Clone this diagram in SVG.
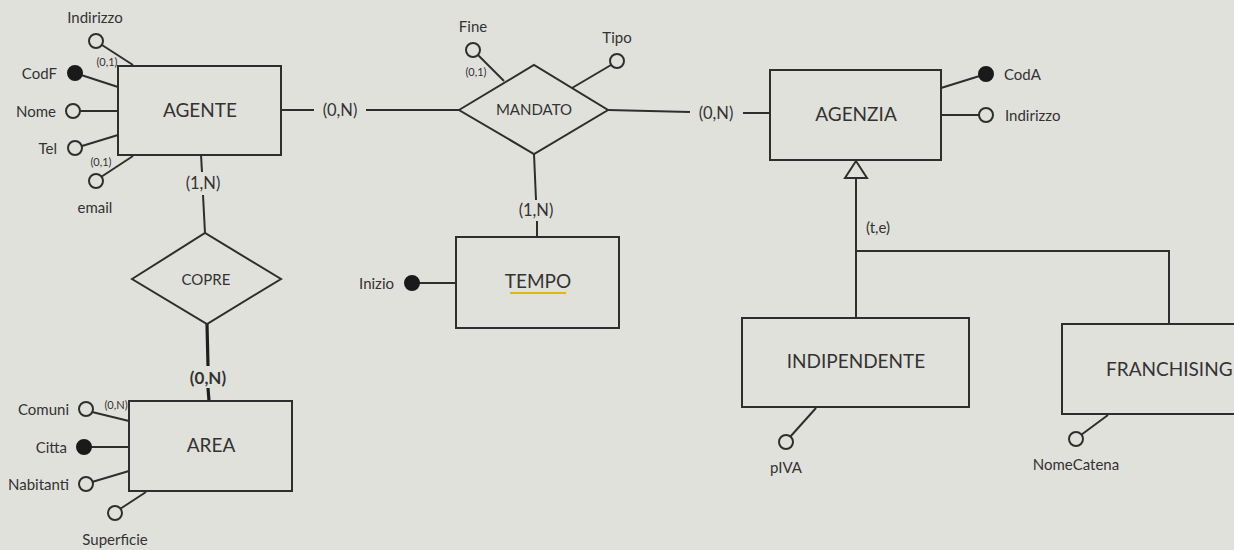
<svg xmlns="http://www.w3.org/2000/svg" width="1234" height="550" viewBox="0 0 1234 550">
<style>
.bg{fill:#e1e1dc}
.box{fill:none;stroke:#2e2e2e;stroke-width:2}
.ln{fill:none;stroke:#2e2e2e;stroke-width:2}
.thick{fill:none;stroke:#1e1e1e;stroke-width:3.2}
.oc{fill:#e1e1dc;stroke:#2e2e2e;stroke-width:2}
.fc{fill:#1a1a1a;stroke:#1a1a1a;stroke-width:2}
text{font-family:Lato,"Open Sans","Liberation Sans",sans-serif;fill:#333;dominant-baseline:central}
.ent{font-size:19px}
.att{font-size:15px}
.card{font-size:16.5px}
.sm{font-size:11px}
.bold{font-weight:bold;font-size:17px}
.m{text-anchor:middle}
.e{text-anchor:end}
.s{text-anchor:start}
</style>
<rect class="bg" x="0" y="0" width="1234" height="550"/>

<g id="connectors">
  <line class="ln" x1="281" y1="110" x2="314" y2="110"/>
  <line class="ln" x1="366" y1="110" x2="459" y2="110"/>
  <line class="ln" x1="608" y1="110" x2="690" y2="112"/>
  <line class="ln" x1="743" y1="113" x2="770" y2="113"/>
  <line class="ln" x1="534" y1="154" x2="536" y2="200"/>
  <line class="ln" x1="537" y1="221" x2="537" y2="237"/>
  <line class="ln" x1="201" y1="155" x2="202" y2="172"/>
  <line class="ln" x1="203" y1="195" x2="205" y2="233"/>
  <line class="thick" x1="207" y1="324" x2="208" y2="366"/>
  <line class="thick" x1="208" y1="388" x2="209" y2="401"/>
  <polygon class="oc" points="856,161 845,178 867,178"/>
  <polyline class="ln" points="856,178 856,318"/>
  <polyline class="ln" points="856,251 1169,251 1169,324"/>
</g>

<g id="agente">
  <rect class="box" x="118" y="66" width="163" height="89"/>
  <text class="ent m" x="200" y="109">AGENTE</text>
  <line class="ln" x1="102" y1="45" x2="133" y2="65"/>
  <circle class="oc" cx="96" cy="41" r="7"/>
  <text class="att m" x="95" y="17">Indirizzo</text>
  <text class="sm m" x="107" y="61">(0,1)</text>
  <line class="ln" x1="75" y1="73" x2="118" y2="87"/>
  <circle class="fc" cx="75" cy="73" r="7"/>
  <text class="att e" x="57" y="73">CodF</text>
  <line class="ln" x1="80" y1="111" x2="118" y2="111"/>
  <circle class="oc" cx="73" cy="111" r="7"/>
  <text class="att e" x="56" y="111">Nome</text>
  <line class="ln" x1="82" y1="146" x2="118" y2="135"/>
  <circle class="oc" cx="75" cy="148" r="7"/>
  <text class="att e" x="57" y="148">Tel</text>
  <line class="ln" x1="101" y1="177" x2="133" y2="156"/>
  <circle class="oc" cx="96" cy="181" r="7"/>
  <text class="sm m" x="101" y="161">(0,1)</text>
  <text class="att m" x="95" y="207">email</text>
  <text class="card m" x="340" y="110">(0,N)</text>
  <text class="card m" x="203" y="183">(1,N)</text>
</g>

<g id="mandato">
  <polygon class="box" points="459,110 534,65 608,110 534,154"/>
  <text class="att m" x="534" y="109">MANDATO</text>
  <line class="ln" x1="478" y1="55" x2="504" y2="81"/>
  <circle class="oc" cx="473" cy="50" r="7"/>
  <text class="att m" x="473" y="26">Fine</text>
  <text class="sm m" x="476" y="71">(0,1)</text>
  <line class="ln" x1="611" y1="65" x2="572" y2="88"/>
  <circle class="oc" cx="617" cy="61" r="7"/>
  <text class="att m" x="617" y="37">Tipo</text>
  <text class="card m" x="716" y="113">(0,N)</text>
  <text class="card m" x="536" y="210">(1,N)</text>
</g>

<g id="tempo">
  <rect class="box" x="456" y="237" width="163" height="91"/>
  <text class="ent m" x="538" y="280">TEMPO</text>
  <line x1="510" y1="293" x2="566" y2="293" stroke="#e2b800" stroke-width="2"/>
  <line class="ln" x1="412" y1="283" x2="456" y2="283"/>
  <circle class="fc" cx="412" cy="283" r="7"/>
  <text class="att e" x="394" y="283">Inizio</text>
</g>

<g id="copre">
  <polygon class="box" points="132,279 205,233 281,279 207,324"/>
  <text class="att m" x="206" y="279">COPRE</text>
  <text class="bold m" x="208" y="377">(0,N)</text>
</g>

<g id="area">
  <rect class="box" x="129" y="401" width="163" height="90"/>
  <text class="ent m" x="211" y="444">AREA</text>
  <line class="ln" x1="92" y1="412" x2="129" y2="421"/>
  <circle class="oc" cx="86" cy="409" r="7"/>
  <text class="sm m" x="116" y="404">(0,N)</text>
  <text class="att e" x="69" y="409">Comuni</text>
  <line class="ln" x1="84" y1="447" x2="129" y2="447"/>
  <circle class="fc" cx="84" cy="447" r="7"/>
  <text class="att e" x="67" y="447">Citta</text>
  <line class="ln" x1="92" y1="482" x2="129" y2="471"/>
  <circle class="oc" cx="86" cy="484" r="7"/>
  <text class="att e" x="69" y="484">Nabitanti</text>
  <line class="ln" x1="120" y1="509" x2="146" y2="492"/>
  <circle class="oc" cx="115" cy="513" r="7"/>
  <text class="att m" x="115" y="539">Superficie</text>
</g>

<g id="agenzia">
  <rect class="box" x="770" y="70" width="171" height="90"/>
  <text class="ent m" x="856" y="113">AGENZIA</text>
  <line class="ln" x1="941" y1="88" x2="986" y2="74"/>
  <circle class="fc" cx="986" cy="74" r="7"/>
  <text class="att s" x="1004" y="74">CodA</text>
  <line class="ln" x1="941" y1="115" x2="979" y2="115"/>
  <circle class="oc" cx="986" cy="115" r="7"/>
  <text class="att s" x="1005" y="115">Indirizzo</text>
  <text class="att m" x="878" y="227">(t,e)</text>
</g>

<g id="indipendente">
  <rect class="box" x="742" y="318" width="227" height="89"/>
  <text class="ent m" x="856" y="360">INDIPENDENTE</text>
  <line class="ln" x1="790" y1="437" x2="816" y2="408"/>
  <circle class="oc" cx="786" cy="442" r="7"/>
  <text class="att m" x="786" y="467">pIVA</text>
</g>

<g id="franchising">
  <rect class="box" x="1062" y="324" width="180" height="90"/>
  <text class="ent s" x="1106" y="368">FRANCHISING</text>
  <line class="ln" x1="1081" y1="435" x2="1108" y2="415"/>
  <circle class="oc" cx="1076" cy="439" r="7"/>
  <text class="att m" x="1076" y="464">NomeCatena</text>
</g>
</svg>
